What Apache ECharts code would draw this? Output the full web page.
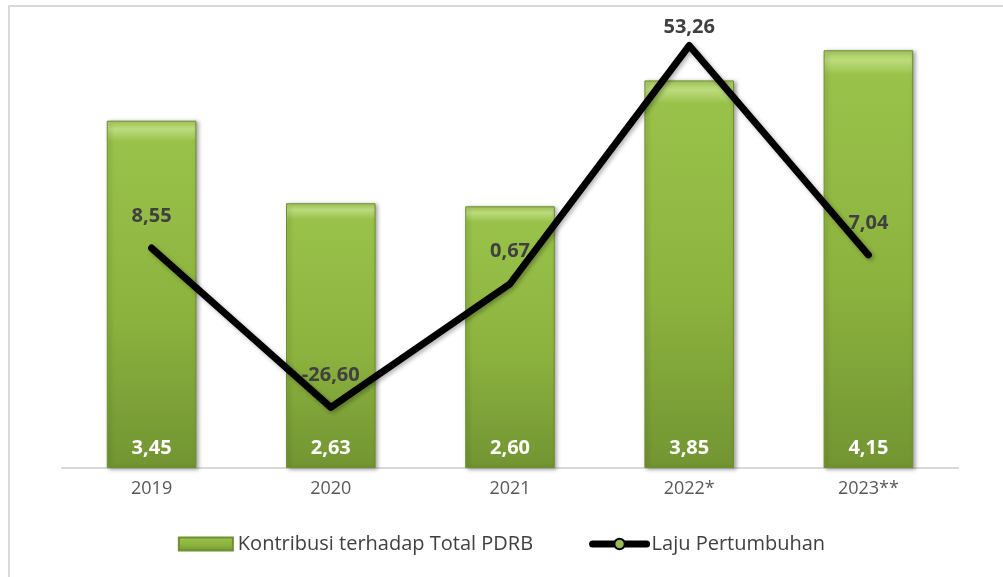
<!DOCTYPE html>
<html>
<head>
<meta charset="utf-8">
<script src="https://cdn.jsdelivr.net/npm/echarts@6/dist/echarts.min.js"></script>
<style>
	html, body { margin: 0; padding: 0; background: #fff; }
	#chart { width: 1003px; height: 577px; }
</style>
</head>
<body>
<div id="chart"></div>
<script>
let tahun = ['2019', '2020', '2021', '2022*', '2023**']
let kontribusi = [3.45, 2.63, 2.60, 3.85, 4.15]
let laju = [8.55, -26.60, 0.67, 53.26, 7.04]

let koma = function (v) {
	return Number(v).toFixed(2).replace('.', ',')
}

let myChart = echarts.init(document.getElementById('chart'))
let hijau = new echarts.graphic.LinearGradient(0, 0, 0, 1, [
	{ offset: 0, color: '#a9cd5e' },
	{ offset: 0.025, color: '#bcdb7c' },
	{ offset: 0.06, color: '#98c24a' },
	{ offset: 0.55, color: '#8db33f' },
	{ offset: 1, color: '#729532' }
])

let option = {
	backgroundColor: '#fff',
	textStyle: { fontFamily: 'Open Sans' },
	graphic: [{
		type: 'rect',
		shape: { x: 9, y: 6, width: 1100, height: 700 },
		style: { fill: 'none', stroke: '#d9d9d9', lineWidth: 2 },
		z: -10
	}],
	grid: { left: 62, right: 45, top: 15, bottom: 109 },
	legend: {
		top: 529,
		left: 'center',
		itemGap: 56,
		itemWidth: 54,
		itemHeight: 13,
		textStyle: { color: '#404040', fontSize: 20 },
		data: [
			{ name: 'Kontribusi terhadap Total PDRB', icon: 'rect' },
			{ name: 'Laju Pertumbuhan', lineStyle: { width: 7 } }
		]
	},
	xAxis: {
		type: 'category',
		data: tahun,
		axisTick: { show: false },
		axisLine: { lineStyle: { color: '#d9d9d9', width: 2 } },
		axisLabel: { color: '#595959', fontSize: 18, margin: 12 }
	},
	yAxis: [
		{ type: 'value', min: 0, max: 4.5, show: false, splitLine: { show: false } },
		{ type: 'value', min: -40, max: 60, show: false, splitLine: { show: false } }
	],
	series: [
		{
			name: 'Kontribusi terhadap Total PDRB',
			type: 'bar',
			yAxisIndex: 0,
			barWidth: '50%',
			data: kontribusi,
			itemStyle: {
				color: hijau,
				borderColor: '#6f8f30',
				borderWidth: 1,
				shadowColor: 'rgba(0,0,0,0.35)',
				shadowBlur: 4,
				shadowOffsetX: 2,
				shadowOffsetY: 1
			},
			label: {
				show: true,
				position: 'insideBottom',
				distance: 10,
				color: '#fff',
				fontSize: 20,
				fontWeight: 'bold',
				formatter: function (p) { return koma(p.value) }
			}
		},
		{
			name: 'Laju Pertumbuhan',
			type: 'line',
			yAxisIndex: 1,
			data: laju.map(function (v, i) {
				return { value: v, label: { distance: v === Math.max.apply(null, laju) ? 8 : 22 } }
			}),
			symbol: 'circle',
			showSymbol: true,
			symbolSize: 0,
			itemStyle: { color: '#9bbb59', borderColor: '#000', borderWidth: 2 },
			lineStyle: {
				color: '#000',
				width: 7,
				cap: 'round',
				join: 'round',
				shadowColor: 'rgba(0,0,0,0.3)',
				shadowBlur: 4,
				shadowOffsetX: 2,
				shadowOffsetY: 2
			},
			label: {
				show: true,
				position: 'top',
				color: '#404040',
				fontSize: 20,
				fontWeight: 'bold',
				formatter: function (p) { return koma(p.value) }
			},
			z: 5
		}
	]
}
myChart.setOption(option)
</script>
</body>
</html>
